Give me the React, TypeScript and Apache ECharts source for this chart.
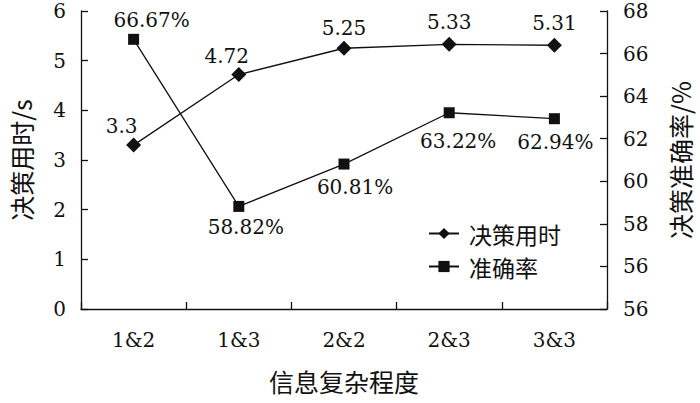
import React, { useEffect, useRef } from "react";
import * as echarts from "echarts";

const categories = ["1&2", "1&3", "2&2", "2&3", "3&3"];
const timeValues = [3.3, 4.72, 5.25, 5.33, 5.31];
const accuracyValues = [66.67, 58.82, 60.81, 63.22, 62.94];
const leftTickRange = [0, 6, 1];
const rightTickRange = [54, 68, 2];

// label placement (style only)
const timeLabelOffsets = [[-12, 1], [-12, 2], [0, 0], [0, -2], [0, -2]];
const accLabelPos = ["top", "bottom", "bottom", "bottom", "bottom"];
const accLabelOffsets = [[18, 4], [7, -3], [11, -1], [9, 5], [1, 0]];

const NUM_FONT = "DejaVu Serif";
const CJK_FONT = "Noto Sans CJK SC";
const FS = 20;
const CJK_FS = 25;
const LEGEND_FS = 23;
const INK = "#111";

export default function App() {
  const ref = useRef<HTMLDivElement>(null);
  useEffect(() => {
    if (!ref.current) return;
    const chart = echarts.init(ref.current, null, { renderer: "svg" });
    const txt = { fontFamily: NUM_FONT, fontSize: FS, color: INK };
    const cjk = { fontFamily: CJK_FONT, fontSize: CJK_FS, color: INK };
    const axisLine = { show: true, lineStyle: { color: INK, width: 1.3 } };
    const axisTick = { show: true, inside: true, length: 7, lineStyle: { color: INK, width: 1.3 } };
    chart.setOption({
      animation: false,
      backgroundColor: "#fff",
      textStyle: { fontFamily: NUM_FONT, color: INK },
      grid: { left: 75, right: 83, top: 11, bottom: 94 },
      legend: {
        orient: "vertical",
        left: 428,
        top: 222,
        padding: 0,
        itemWidth: 30,
        itemHeight: 14,
        itemGap: 10,
        textStyle: { fontFamily: CJK_FONT, fontSize: LEGEND_FS, color: INK, padding: [0, 0, 0, 5] },
        data: ["决策用时", "准确率"],
      },
      xAxis: {
        type: "category",
        data: categories,
        boundaryGap: true,
        name: "信息复杂程度",
        nameLocation: "middle",
        nameGap: 59,
        nameTextStyle: { ...cjk },
        axisLine,
        axisTick,
        axisLabel: { ...txt, margin: 21 },
        splitLine: { show: false },
      },
      yAxis: [
        {
          type: "value",
          min: leftTickRange[0],
          max: leftTickRange[1],
          interval: leftTickRange[2],
          position: "left",
          name: "决策用时/s",
          nameLocation: "middle",
          nameRotate: 90,
          nameGap: 48,
          nameTextStyle: { ...cjk },
          axisLine,
          axisTick,
          axisLabel: { ...txt, margin: 15 },
          splitLine: { show: false },
        },
        {
          type: "value",
          min: rightTickRange[0],
          max: rightTickRange[1],
          interval: rightTickRange[2],
          position: "right",
          name: "决策准确率/%",
          nameLocation: "middle",
          nameRotate: 90,
          nameGap: 60,
          nameTextStyle: { ...cjk },
          axisLine,
          axisTick,
          axisLabel: {
            ...txt,
            margin: 16,
            formatter: (v: number) => (v === 54 ? "56" : String(v)),
          },
          splitLine: { show: false },
        },
      ],
      series: [
        {
          name: "决策用时",
          type: "line",
          yAxisIndex: 0,
          data: timeValues.map((v, i) => ({
            value: v,
            label: { offset: timeLabelOffsets[i] },
          })),
          symbol: "diamond",
          symbolSize: 15,
          itemStyle: { color: INK },
          lineStyle: { color: INK, width: 1.3 },
          label: { show: true, position: "top", distance: 3, ...txt },
        },
        {
          name: "准确率",
          type: "line",
          yAxisIndex: 1,
          data: accuracyValues.map((v, i) => ({
            value: v,
            label: { position: accLabelPos[i], offset: accLabelOffsets[i] },
          })),
          symbol: "rect",
          symbolSize: 11,
          itemStyle: { color: INK },
          lineStyle: { color: INK, width: 1.3 },
          label: {
            show: true,
            distance: 8,
            ...txt,
            formatter: (p: any) => p.value.toFixed(2) + "%",
          },
        },
      ],
    });
    return () => chart.dispose();
  }, []);
  return (
    <div
      ref={ref}
      style={{ position: "absolute", left: 0, top: 0, width: 700, height: 403 }}
    />
  );
}
